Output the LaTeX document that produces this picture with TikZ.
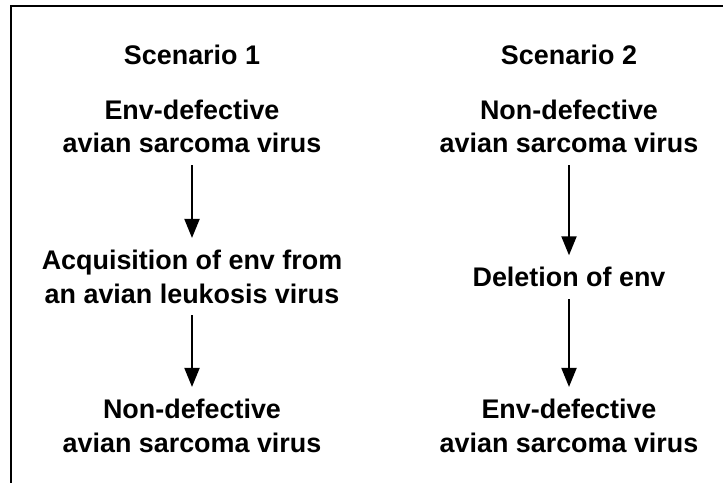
\documentclass[tikz,border=0pt]{standalone}
\usepackage{fontspec}
\setmainfont{Liberation Sans}
\usetikzlibrary{arrows.meta}

\tikzset{
  lbl/.style={font=\bfseries\fontsize{27}{33.5}\selectfont, align=center, inner sep=0pt, anchor=base},
  flow/.style={line width=2bp, -{Triangle[length=19bp,width=15bp]}, shorten <=12bp, shorten >=12bp}
}

\begin{document}
\begin{tikzpicture}[x=1bp, y=-1bp]
	\useasboundingbox (0,0) rectangle (723,483);
	% frame, only top and left sides show
	\draw[line width=2bp] (11,483) -- (11,6) -- (723,6);
	% scenario 1
	\node[lbl] (head1) at (192,65) {Scenario 1};
	\node[lbl] (start1) at (192,153) {Env-defective\\avian sarcoma virus};
	\node[lbl] (step1) at (192,303) {Acquisition of env from\\an avian leukosis virus};
	\node[lbl] (end1) at (192,452) {Non-defective\\avian sarcoma virus};
	% scenario 2
	\node[lbl] (head2) at (569,65) {Scenario 2};
	\node[lbl] (start2) at (569,153) {Non-defective\\avian sarcoma virus};
	\node[lbl] (step2) at (569,287) {Deletion of env};
	\node[lbl] (end2) at (569,452) {Env-defective\\avian sarcoma virus};
	% arrows
	\draw[flow] (start1) -- (step1);
	\draw[flow] (step1) -- (end1);
	\draw[flow] (start2) -- (step2);
	\draw[flow] (step2) -- (end2);
\end{tikzpicture}
\end{document}
